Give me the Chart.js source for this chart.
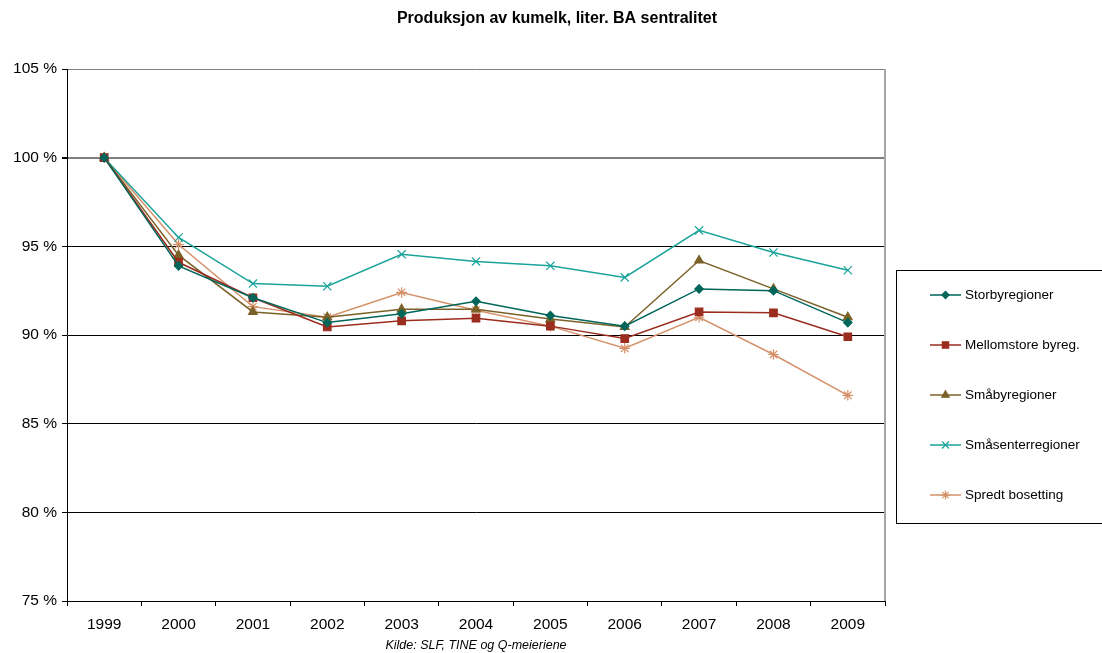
<!DOCTYPE html>
<html>
<head>
<meta charset="utf-8">
<script src="https://cdn.jsdelivr.net/npm/chart.js@4.4.1/dist/chart.umd.min.js"></script>
<style>
  html, body { margin: 0; padding: 0; background: #fff; }
</style>
</head>
<body>
<canvas id="myChart" width="1102" height="653"></canvas>
<script>
// Data (prosent, 1999 = 100)
const years = ['1999', '2000', '2001', '2002', '2003', '2004', '2005', '2006', '2007', '2008', '2009'];
const storby = [100, 93.9, 92.1, 90.7, 91.2, 91.9, 91.1, 90.5, 92.6, 92.5, 90.7];
const mellomstore = [100, 94.1, 92.1, 90.45, 90.8, 90.95, 90.5, 89.8, 91.3, 91.25, 89.9];
const smaby = [100, 94.5, 91.3, 91.0, 91.45, 91.45, 90.9, 90.45, 94.2, 92.6, 91.0];
const smasenter = [100, 95.5, 92.9, 92.75, 94.55, 94.15, 93.9, 93.25, 95.9, 94.65, 93.65];
const spredt = [100, 95.1, 91.6, 91.0, 92.4, 91.4, 90.5, 89.25, 91.0, 88.9, 86.6];
const yTicks = [75, 80, 85, 90, 95, 100, 105];

const chartTitle = 'Produksjon av kumelk, liter. BA sentralitet';
const sourceText = 'Kilde: SLF, TINE og Q-meieriene';

const FONT = '"Liberation Sans", Arial, sans-serif';

function serie(label, data, color, style, radius) {
    return {
        label: label,
        data: data,
        borderColor: color,
        backgroundColor: color,
        pointBackgroundColor: color,
        pointBorderColor: color,
        pointStyle: style,
        pointRadius: radius,
        pointBorderWidth: 1.2,
        borderWidth: 1.5,
        tension: 0
    };
}

// Tittel, kilde, ramme og egen legend
const extras = {
    id: 'extras',
    afterDraw(chart) {
        const ctx = chart.ctx;
        const a = chart.chartArea;
        ctx.save();
        // høyre ramme
        ctx.strokeStyle = '#a6a6a6';
        ctx.lineWidth = 2;
        ctx.beginPath();
        ctx.moveTo(a.right, a.top);
        ctx.lineTo(a.right, a.bottom);
        ctx.stroke();

        ctx.fillStyle = '#000';
        ctx.textAlign = 'center';
        ctx.textBaseline = 'middle';
        ctx.font = 'bold 16px ' + FONT;
        ctx.fillText(chartTitle, 557, 19);
        ctx.font = 'italic 12.5px ' + FONT;
        ctx.fillText(sourceText, 476, 646);

        // legend
        ctx.strokeStyle = '#000';
        ctx.lineWidth = 1;
        ctx.strokeRect(896.5, 270.5, 215, 253);
        ctx.textAlign = 'left';
        ctx.font = '13.5px ' + FONT;
        chart.data.datasets.forEach((ds, i) => {
            const y = 295 + i * 50;
            ctx.strokeStyle = ds.borderColor;
            ctx.lineWidth = 1.5;
            ctx.beginPath();
            ctx.moveTo(930, y);
            ctx.lineTo(961, y);
            ctx.stroke();
            ctx.fillStyle = ds.pointBackgroundColor;
            ctx.strokeStyle = ds.pointBorderColor;
            ctx.lineWidth = 1.2;
            Chart.helpers.drawPoint(ctx, {
                pointStyle: ds.pointStyle,
                radius: ds.pointRadius * 0.85,
                borderWidth: 1.2,
                rotation: 0
            }, 945.5, y);
            ctx.fillStyle = '#000';
            ctx.fillText(ds.label, 965, y + 0.5);
        });
        ctx.restore();
    }
};

const ctx = document.getElementById('myChart').getContext('2d');
new Chart(ctx, {
    type: 'line',
    data: {
        labels: years,
        datasets: [
            serie('Storbyregioner', storby, '#00665a', 'rectRot', 4.2),
            serie('Mellomstore byreg.', mellomstore, '#9b2d1f', 'rect', 5.3),
            serie('Småbyregioner', smaby, '#7a6128', 'triangle', 5),
            serie('Småsenterregioner', smasenter, '#1aa39a', 'crossRot', 5.8),
            serie('Spredt bosetting', spredt, '#d4916a', 'star', 5.3)
        ]
    },
    options: {
        responsive: false,
        animation: false,
        layout: { padding: { left: 0, top: 69, right: 217, bottom: 0 } },
        plugins: {
            legend: { display: false },
            title: { display: false },
            tooltip: { enabled: false }
        },
        scales: {
            x: {
                offset: true,
                afterFit(scale) { scale.height = 52; },
                grid: {
                    display: true,
                    drawOnChartArea: false,
                    offset: true,
                    color: '#000',
                    tickLength: 5
                },
                border: { color: '#000', width: 1 },
                ticks: {
                    color: '#000',
                    font: { family: FONT, size: 15.5 },
                    padding: 9,
                    maxRotation: 0
                }
            },
            y: {
                min: 75,
                max: 105,
                afterFit(scale) { scale.width = 67; },
                afterBuildTicks(scale) {
                    scale.ticks = yTicks.map(v => ({ value: v }));
                },
                grid: {
                    color: c => (c.tick && (c.tick.value === 100 || c.tick.value === 105)) ? '#808080' : '#000',
                    lineWidth: c => (c.tick && c.tick.value === 100) ? 2 : 1,
                    tickLength: 5,
                    tickColor: '#000'
                },
                border: { color: '#000', width: 1 },
                ticks: {
                    color: '#000',
                    font: { family: FONT, size: 15.5 },
                    padding: 5,
                    callback: v => v + ' %'
                }
            }
        }
    },
    plugins: [extras]
});
</script>
</body>
</html>
